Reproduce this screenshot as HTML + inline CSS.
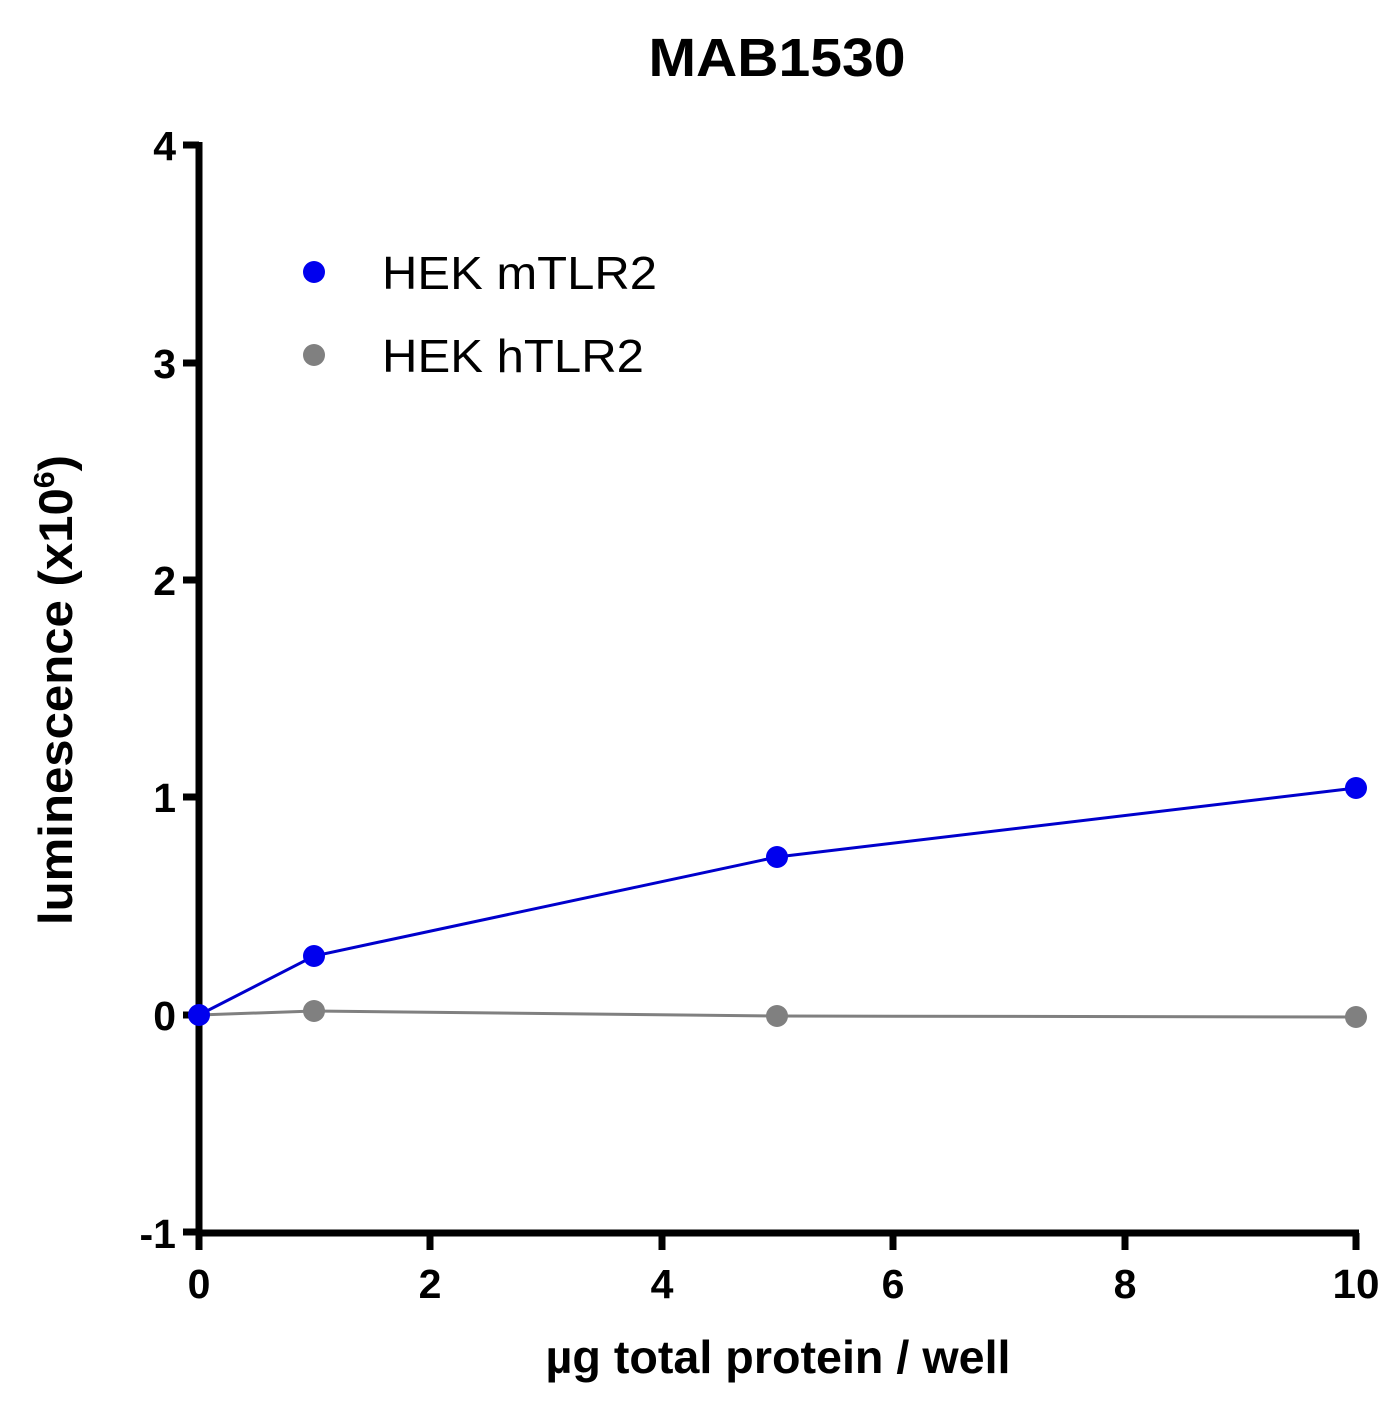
<!DOCTYPE html>
<html><head><meta charset="utf-8"><style>body{margin:0;background:#fff}</style></head>
<body>
<svg width="1384" height="1409" xmlns="http://www.w3.org/2000/svg" font-family="Liberation Sans, Arial, sans-serif">
<rect width="1384" height="1409" fill="#fff"/>
<text x="777" y="76" font-size="54" font-weight="bold" text-anchor="middle" textLength="257" lengthAdjust="spacingAndGlyphs">MAB1530</text>
<g stroke="#000" stroke-width="7" fill="none">
<line x1="199" y1="142" x2="199" y2="1236"/>
<line x1="196" y1="1233" x2="1359" y2="1233"/>
<line x1="183" y1="145" x2="199" y2="145"/>
<line x1="183" y1="363" x2="199" y2="363"/>
<line x1="183" y1="580" x2="199" y2="580"/>
<line x1="183" y1="797" x2="199" y2="797"/>
<line x1="183" y1="1015" x2="199" y2="1015"/>
<line x1="183" y1="1232" x2="199" y2="1232"/>
<line x1="199" y1="1233" x2="199" y2="1250"/>
<line x1="430" y1="1233" x2="430" y2="1250"/>
<line x1="662" y1="1233" x2="662" y2="1250"/>
<line x1="893" y1="1233" x2="893" y2="1250"/>
<line x1="1125" y1="1233" x2="1125" y2="1250"/>
<line x1="1356" y1="1233" x2="1356" y2="1250"/>
</g>
<g font-size="41" font-weight="bold" text-anchor="end">
<text x="176" y="160">4</text><text x="176" y="378">3</text><text x="176" y="595">2</text>
<text x="176" y="812">1</text><text x="176" y="1030">0</text><text x="176" y="1248">-1</text>
</g>
<g font-size="41" font-weight="bold" text-anchor="middle">
<text x="199" y="1298">0</text><text x="430" y="1298">2</text><text x="662" y="1298">4</text>
<text x="893" y="1298">6</text><text x="1125" y="1298">8</text><text x="1356" y="1298" textLength="47" lengthAdjust="spacingAndGlyphs">10</text>
</g>
<text x="778" y="1373" font-size="46" font-weight="bold" text-anchor="middle" textLength="465" lengthAdjust="spacingAndGlyphs">µg total protein / well</text>
<text transform="translate(72,690) rotate(-90)" font-size="47" font-weight="bold" text-anchor="middle" textLength="470" lengthAdjust="spacingAndGlyphs">luminescence (x10<tspan font-size="29" dy="-18">6</tspan><tspan dy="18">)</tspan></text>
<polyline points="199,1015 314,1011 777,1016 1356,1017" fill="none" stroke="#808080" stroke-width="3"/>
<polyline points="199,1015 314,956 777,857 1356,788" fill="none" stroke="#0000cc" stroke-width="3"/>
<g fill="#808080"><circle cx="314" cy="1011" r="11"/><circle cx="777" cy="1016" r="11"/><circle cx="1356" cy="1017" r="11"/></g>
<g fill="#0000ee"><circle cx="199" cy="1015" r="11"/><circle cx="314" cy="956" r="11"/><circle cx="777" cy="857" r="11"/><circle cx="1356" cy="788" r="11"/></g>
<circle cx="314" cy="272" r="11" fill="#0000ee"/>
<circle cx="314" cy="355" r="11" fill="#808080"/>
<text x="382" y="289" font-size="46" textLength="275" lengthAdjust="spacingAndGlyphs">HEK mTLR2</text>
<text x="382" y="372" font-size="46" textLength="262" lengthAdjust="spacingAndGlyphs">HEK hTLR2</text>
</svg>
</body></html>
